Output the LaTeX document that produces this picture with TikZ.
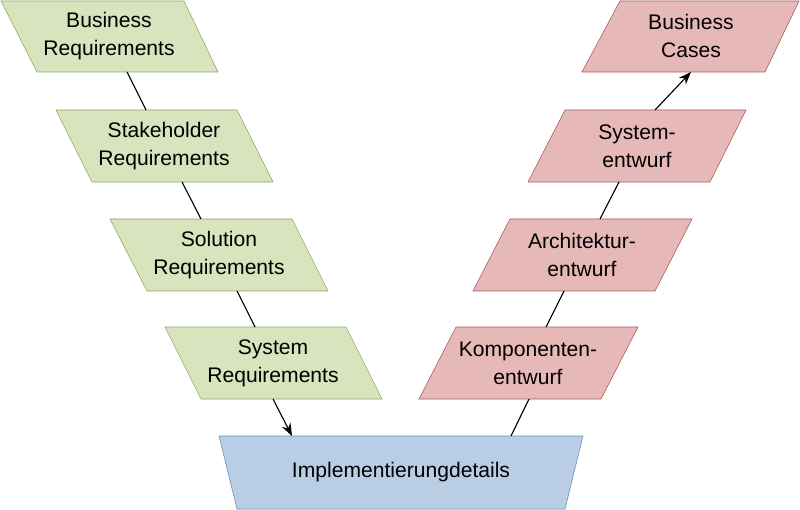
\documentclass[tikz,border=0pt]{standalone}
\usepackage{fontspec}
\setmainfont{Liberation Sans}
\usepackage{tikz}
\usetikzlibrary{arrows.meta, calc}

\definecolor{reqfill}{HTML}{D7E4BD}
\definecolor{reqline}{HTML}{8EA861}
\definecolor{casefill}{HTML}{E6B9B8}
\definecolor{caseline}{HTML}{A05A58}
\definecolor{implfill}{HTML}{B9CDE5}
\definecolor{implline}{HTML}{6F8FBF}

\tikzset{
  reqbox/.style={fill=reqfill, draw=reqline},
  casebox/.style={fill=casefill, draw=caseline},
  implbox/.style={fill=implfill, draw=implline},
  boxtext/.style={align=center, font=\fontsize{15}{20}\selectfont},
  link/.style={thick, black},
}

\begin{document}
\begin{tikzpicture}[x=0.025cm, y=-0.025cm]
  \useasboundingbox (0,0) rectangle (800,510);

  % --- left side: requirements ---
  \draw[reqbox] (1,1) -- (184,1) -- (218,72) -- (37,72) -- cycle;
  \node[boxtext] (bizreq) at (109,36) {Business\\Requirements};
  \coordinate (bizreq-b) at (127,72);

  \draw[reqbox] (56,110) -- (237,110) -- (273,182) -- (92,182) -- cycle;
  \node[boxtext] (stakereq) at (164,146) {Stakeholder\\Requirements};
  \coordinate (stakereq-t) at (146,110);
  \coordinate (stakereq-b) at (182,182);

  \draw[reqbox] (110,219) -- (292,219) -- (328,291) -- (147,291) -- cycle;
  \node[boxtext] (solreq) at (219,255) {Solution\\Requirements};
  \coordinate (solreq-t) at (201,219);
  \coordinate (solreq-b) at (237,291);

  \draw[reqbox] (165,327) -- (346,327) -- (382,399) -- (201,399) -- cycle;
  \node[boxtext] (sysreq) at (273,363) {System\\Requirements};
  \coordinate (sysreq-t) at (255,327);
  \coordinate (sysreq-b) at (273,399);

  % --- bottom ---
  \draw[implbox] (219,436) -- (583,436) -- (565,509) -- (237,509) -- cycle;
  \node[boxtext] (impl) at (401,472) {Implementierungdetails};
  \coordinate (impl-l) at (292,436);
  \coordinate (impl-r) at (511,436);

  % --- right side: design ---
  \draw[casebox] (456,327) -- (638,327) -- (601,399) -- (419,399) -- cycle;
  \node[boxtext] (compdes) at (528,363) {Komponenten-\\entwurf};
  \coordinate (compdes-t) at (546,327);
  \coordinate (compdes-b) at (529,399);

  \draw[casebox] (510,219) -- (692,219) -- (655,291) -- (473,291) -- cycle;
  \node[boxtext] (archdes) at (582,255) {Architektur-\\entwurf};
  \coordinate (archdes-t) at (600,219);
  \coordinate (archdes-b) at (564,291);

  \draw[casebox] (565,110) -- (746,110) -- (710,182) -- (528,182) -- cycle;
  \node[boxtext] (sysdes) at (637,146) {System-\\entwurf};
  \coordinate (sysdes-t) at (655,110);
  \coordinate (sysdes-b) at (619,182);

  \draw[casebox] (620,1) -- (799,1) -- (765,72) -- (582,72) -- cycle;
  \node[boxtext] (bizcase) at (691,36) {Business\\Cases};
  \coordinate (bizcase-b) at (691,72);

  % connectors
  \draw[link] (bizreq-b) -- (stakereq-t);
  \draw[link] (stakereq-b) -- (solreq-t);
  \draw[link] (solreq-b) -- (sysreq-t);
  \draw[link, -{Stealth[length=9pt]}] (sysreq-b) -- (impl-l);
  \draw[link] (impl-r) -- (compdes-b);
  \draw[link] (compdes-t) -- (archdes-b);
  \draw[link] (archdes-t) -- (sysdes-b);
  \draw[link, -{Stealth[length=9pt]}] (sysdes-t) -- (bizcase-b);
\end{tikzpicture}
\end{document}
